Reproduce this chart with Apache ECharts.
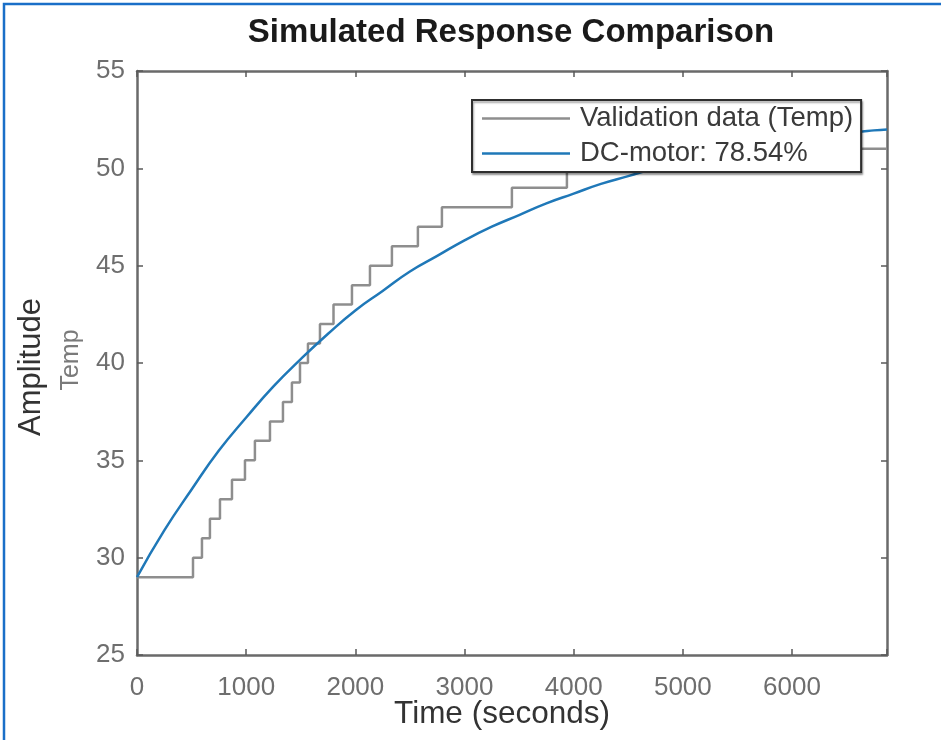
<!DOCTYPE html>
<html>
<head>
<meta charset="utf-8">
<script src="https://cdn.jsdelivr.net/npm/echarts@6/dist/echarts.min.js"></script>
<style>
html,body{margin:0;padding:0;background:#fff;}
#chart{width:941px;height:740px;}
</style>
</head>
<body>
<div id="chart"></div>
<script>
// Validation data (Temp): step change times (s) and levels
const stepTimes = [0, 513, 595, 668, 760, 870, 989, 1080, 1218, 1337, 1419, 1493, 1566, 1676, 1800, 1969, 2134, 2335, 2573, 2793, 3434, 3938, 5400, 6870];
const stepTemps = [29, 30, 31, 32, 33, 34, 35, 36, 37, 38, 39, 40, 41, 42, 43, 44, 45, 46, 47, 48, 49, 50, 51, 51];

// DC-motor model simulated response
const modelTimes = [0, 250, 500, 750, 1000, 1250, 1500, 1750, 2000, 2250, 2500, 2750, 3000, 3250, 3500, 3750, 4000, 4250, 4500, 4750, 5000, 5250, 5500, 5750, 6000, 6250, 6500, 6750, 6870];
const modelTemps = [29.0, 31.4, 33.5, 35.5, 37.2, 38.8, 40.2, 41.5, 42.7, 43.7, 44.7, 45.5, 46.3, 47.0, 47.6, 48.2, 48.7, 49.2, 49.6, 50.0, 50.3, 50.6, 50.9, 51.2, 51.4, 51.6, 51.8, 51.95, 52.0];

const xTicks = [0, 1000, 2000, 3000, 4000, 5000, 6000];
const yTicks = [25, 30, 35, 40, 45, 50, 55];

const seriesNames = ['Validation data (Temp)', 'DC-motor: 78.54%'];

const chart = echarts.init(document.getElementById('chart'));

const axisLineStyle = { color: '#6a6a6a', width: 2.5 };
const tickStyle = { color: '#5a5a5a', width: 1.5 };

const option = {
  backgroundColor: '#ffffff',
  animation: false,
  title: {
    text: 'Simulated Response Comparison',
    left: 506,
    top: 11,
    textAlign: 'center',
    textStyle: { fontFamily: 'Liberation Sans, Arial, sans-serif', fontSize: 33, fontWeight: 'bold', color: '#1a1a1a' }
  },
  grid: { left: 137, right: 54, top: 71, bottom: 85, containLabel: false, outerBoundsMode: 'none' },
  legend: {
    orient: 'vertical',
    left: 472,
    top: 100,
    padding: [3, 8, 3, 10],
    itemGap: 4,
    itemWidth: 88,
    itemHeight: 2.5,
    backgroundColor: '#ffffff',
    borderColor: '#2e2e2e',
    borderWidth: 2,
    shadowColor: 'rgba(0,0,0,0.35)',
    shadowBlur: 2,
    shadowOffsetX: 1,
    shadowOffsetY: 2,
    textStyle: { fontFamily: 'Liberation Sans, Arial, sans-serif', fontSize: 27.5, color: '#3a3a3a', lineHeight: 31, padding: [0, 0, 0, 5] },
    data: [
      { name: seriesNames[0], icon: 'rect' },
      { name: seriesNames[1], icon: 'rect' }
    ]
  },
  xAxis: [
    {
      type: 'value', min: 0, max: 6870, interval: 1000, position: 'bottom',
      name: 'Time (seconds)', nameLocation: 'middle', nameGap: 43, nameMoveOverlap: false,
      nameTextStyle: { fontFamily: 'Liberation Sans, Arial, sans-serif', fontSize: 31.5, color: '#333333', padding: [0, 20, 0, 0] },
      axisLine: { show: true, onZero: false, lineStyle: axisLineStyle },
      axisTick: { show: true, inside: true, length: 6, lineStyle: tickStyle },
      axisLabel: {
        show: true, margin: 20, color: '#6e6e6e', fontSize: 26,
        fontFamily: 'Liberation Sans, Arial, sans-serif',
        formatter: function (v) { return xTicks.indexOf(v) >= 0 ? String(v) : ''; }
      },
      splitLine: { show: false }
    },
    {
      type: 'value', min: 0, max: 6870, interval: 1000, position: 'top',
      axisLine: { show: true, onZero: false, lineStyle: axisLineStyle },
      axisTick: { show: true, inside: true, length: 6, lineStyle: tickStyle },
      axisLabel: { show: false },
      splitLine: { show: false }
    }
  ],
  yAxis: [
    {
      type: 'value', min: 25, max: 55, interval: 5, position: 'left',
      axisLine: { show: true, onZero: false, lineStyle: axisLineStyle },
      axisTick: { show: true, inside: true, length: 6, lineStyle: tickStyle },
      axisLabel: {
        show: true, margin: 12, color: '#6e6e6e', fontSize: 26,
        fontFamily: 'Liberation Sans, Arial, sans-serif',
        formatter: function (v) { return yTicks.indexOf(v) >= 0 ? String(v) : ''; }
      },
      splitLine: { show: false }
    },
    {
      type: 'value', min: 25, max: 55, interval: 5, position: 'right',
      axisLine: { show: true, onZero: false, lineStyle: axisLineStyle },
      axisTick: { show: true, inside: true, length: 6, lineStyle: tickStyle },
      axisLabel: { show: false },
      splitLine: { show: false }
    }
  ],
  series: [
    {
      name: seriesNames[0],
      type: 'line',
      step: 'end',
      xAxisIndex: 0, yAxisIndex: 0,
      showSymbol: false,
      symbol: 'none',
      color: '#8e8e8e',
      lineStyle: { color: '#8e8e8e', width: 2.5 },
      data: stepTimes.map((t, i) => [t, stepTemps[i]]),
      z: 2
    },
    {
      name: seriesNames[1],
      type: 'line',
      smooth: true,
      xAxisIndex: 0, yAxisIndex: 0,
      showSymbol: false,
      symbol: 'none',
      color: '#1f78b8',
      lineStyle: { color: '#1f78b8', width: 2.5 },
      data: modelTimes.map((t, i) => [t, modelTemps[i]]),
      z: 3
    }
  ],
  graphic: [
    {
      type: 'rect', silent: true, z: 100,
      shape: { x: 4, y: 4, width: 1200, height: 1200 },
      style: { fill: 'none', stroke: '#1a6fc8', lineWidth: 2.5 }
    },
    {
      type: 'text', x: 31, y: 367, rotation: Math.PI / 2,
      style: {
        text: 'Amplitude', fill: '#333333', fontSize: 31,
        fontFamily: 'Liberation Sans, Arial, sans-serif',
        textAlign: 'center', textVerticalAlign: 'middle'
      }
    },
    {
      type: 'text', x: 71, y: 360, rotation: Math.PI / 2,
      style: {
        text: 'Temp', fill: '#7a7a7a', fontSize: 25,
        fontFamily: 'Liberation Sans, Arial, sans-serif',
        textAlign: 'center', textVerticalAlign: 'middle'
      }
    }
  ]
};

chart.setOption(option);
</script>
</body>
</html>
